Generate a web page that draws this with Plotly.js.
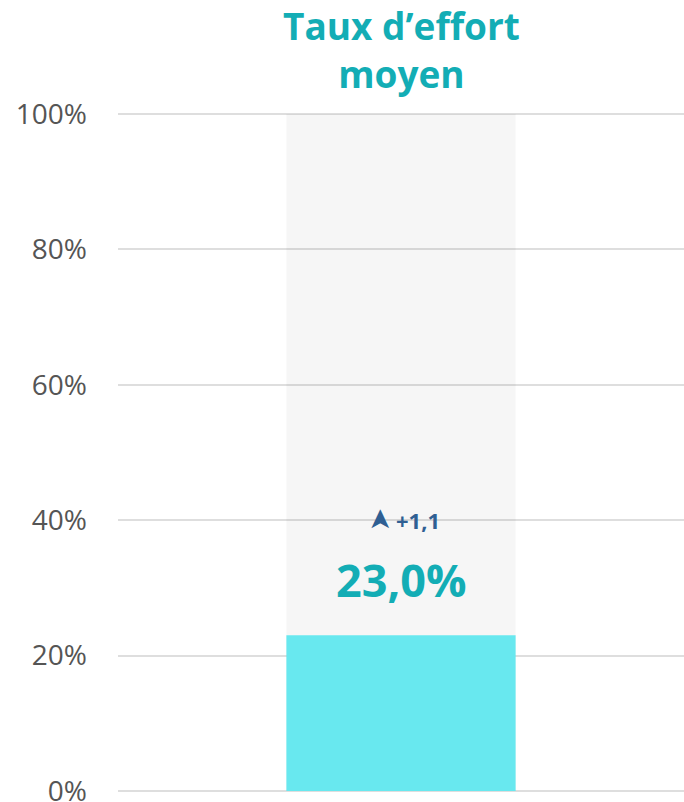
<!DOCTYPE html>
<html><head><meta charset="utf-8">
<script src="https://cdn.plot.ly/plotly-3.0.1.min.js"></script>
<style>html,body{margin:0;padding:0;background:#fff}#chart{width:684px;height:802px}</style>
</head><body><div id="chart"></div>
<script>
const categories = ['Taux d’effort moyen'];
const fullScale = [100];
const values = [23.0];
const valueLabels = ['23,0%'];
const changeLabels = ['+1,1'];
const tickValues = [0, 20, 40, 60, 80, 100];
const tickLabels = ['0%', '20%', '40%', '60%', '80%', '100%'];

const traces = [
  {type:'bar', x:categories, y:fullScale, width:0.405, marker:{color:'rgba(0,0,0,0.035)'}, hoverinfo:'skip'},
  {type:'bar', x:categories, y:values, width:0.405, marker:{color:'#68e8ef'}}
];
const layout = {
  width:684, height:802, showlegend:false, barmode:'overlay',
  margin:{l:118, r:0, t:111, b:8},
  paper_bgcolor:'#fff', plot_bgcolor:'#fff',
  font:{family:'Open Sans, sans-serif'},
  xaxis:{visible:false, type:'category'},
  yaxis:{range:[-0.443,100.443], tickvals:tickValues, ticktext:tickLabels, showgrid:true, gridcolor:'#dedede', gridwidth:2,
         zeroline:false, showline:false, ticks:'', ticklabelstandoff:30, ticklabeloverflow:'allow',
         tickfont:{size:28, color:'#555555', family:'Open Sans, sans-serif'}},
  annotations:[
    {x:0.5, y:1, xref:'paper', yref:'paper', xanchor:'center', yanchor:'bottom', yshift:10, showarrow:false,
     text:'<b>Taux d’effort<br>moyen</b>', font:{size:37, color:'#13adb5', family:'Open Sans, sans-serif'}},
    {x:categories[0], y:40, xref:'x', yref:'y', text:'➤', textangle:-90, showarrow:false, xshift:-22,
     font:{size:28, color:'#2f5f93', family:'DejaVu Sans'}},
    {x:categories[0], y:40, xref:'x', yref:'y', text:'<b>'+changeLabels[0]+'</b>', showarrow:false, xshift:17,
     font:{size:22, color:'#2f5f93'}},
    {x:categories[0], y:31.2, xref:'x', yref:'y', text:'<b>'+valueLabels[0]+'</b>', showarrow:false,
     font:{size:45, color:'#13adb5'}}
  ]
};
Plotly.newPlot('chart', traces, layout, {displayModeBar:false, staticPlot:true});
</script></body></html>
